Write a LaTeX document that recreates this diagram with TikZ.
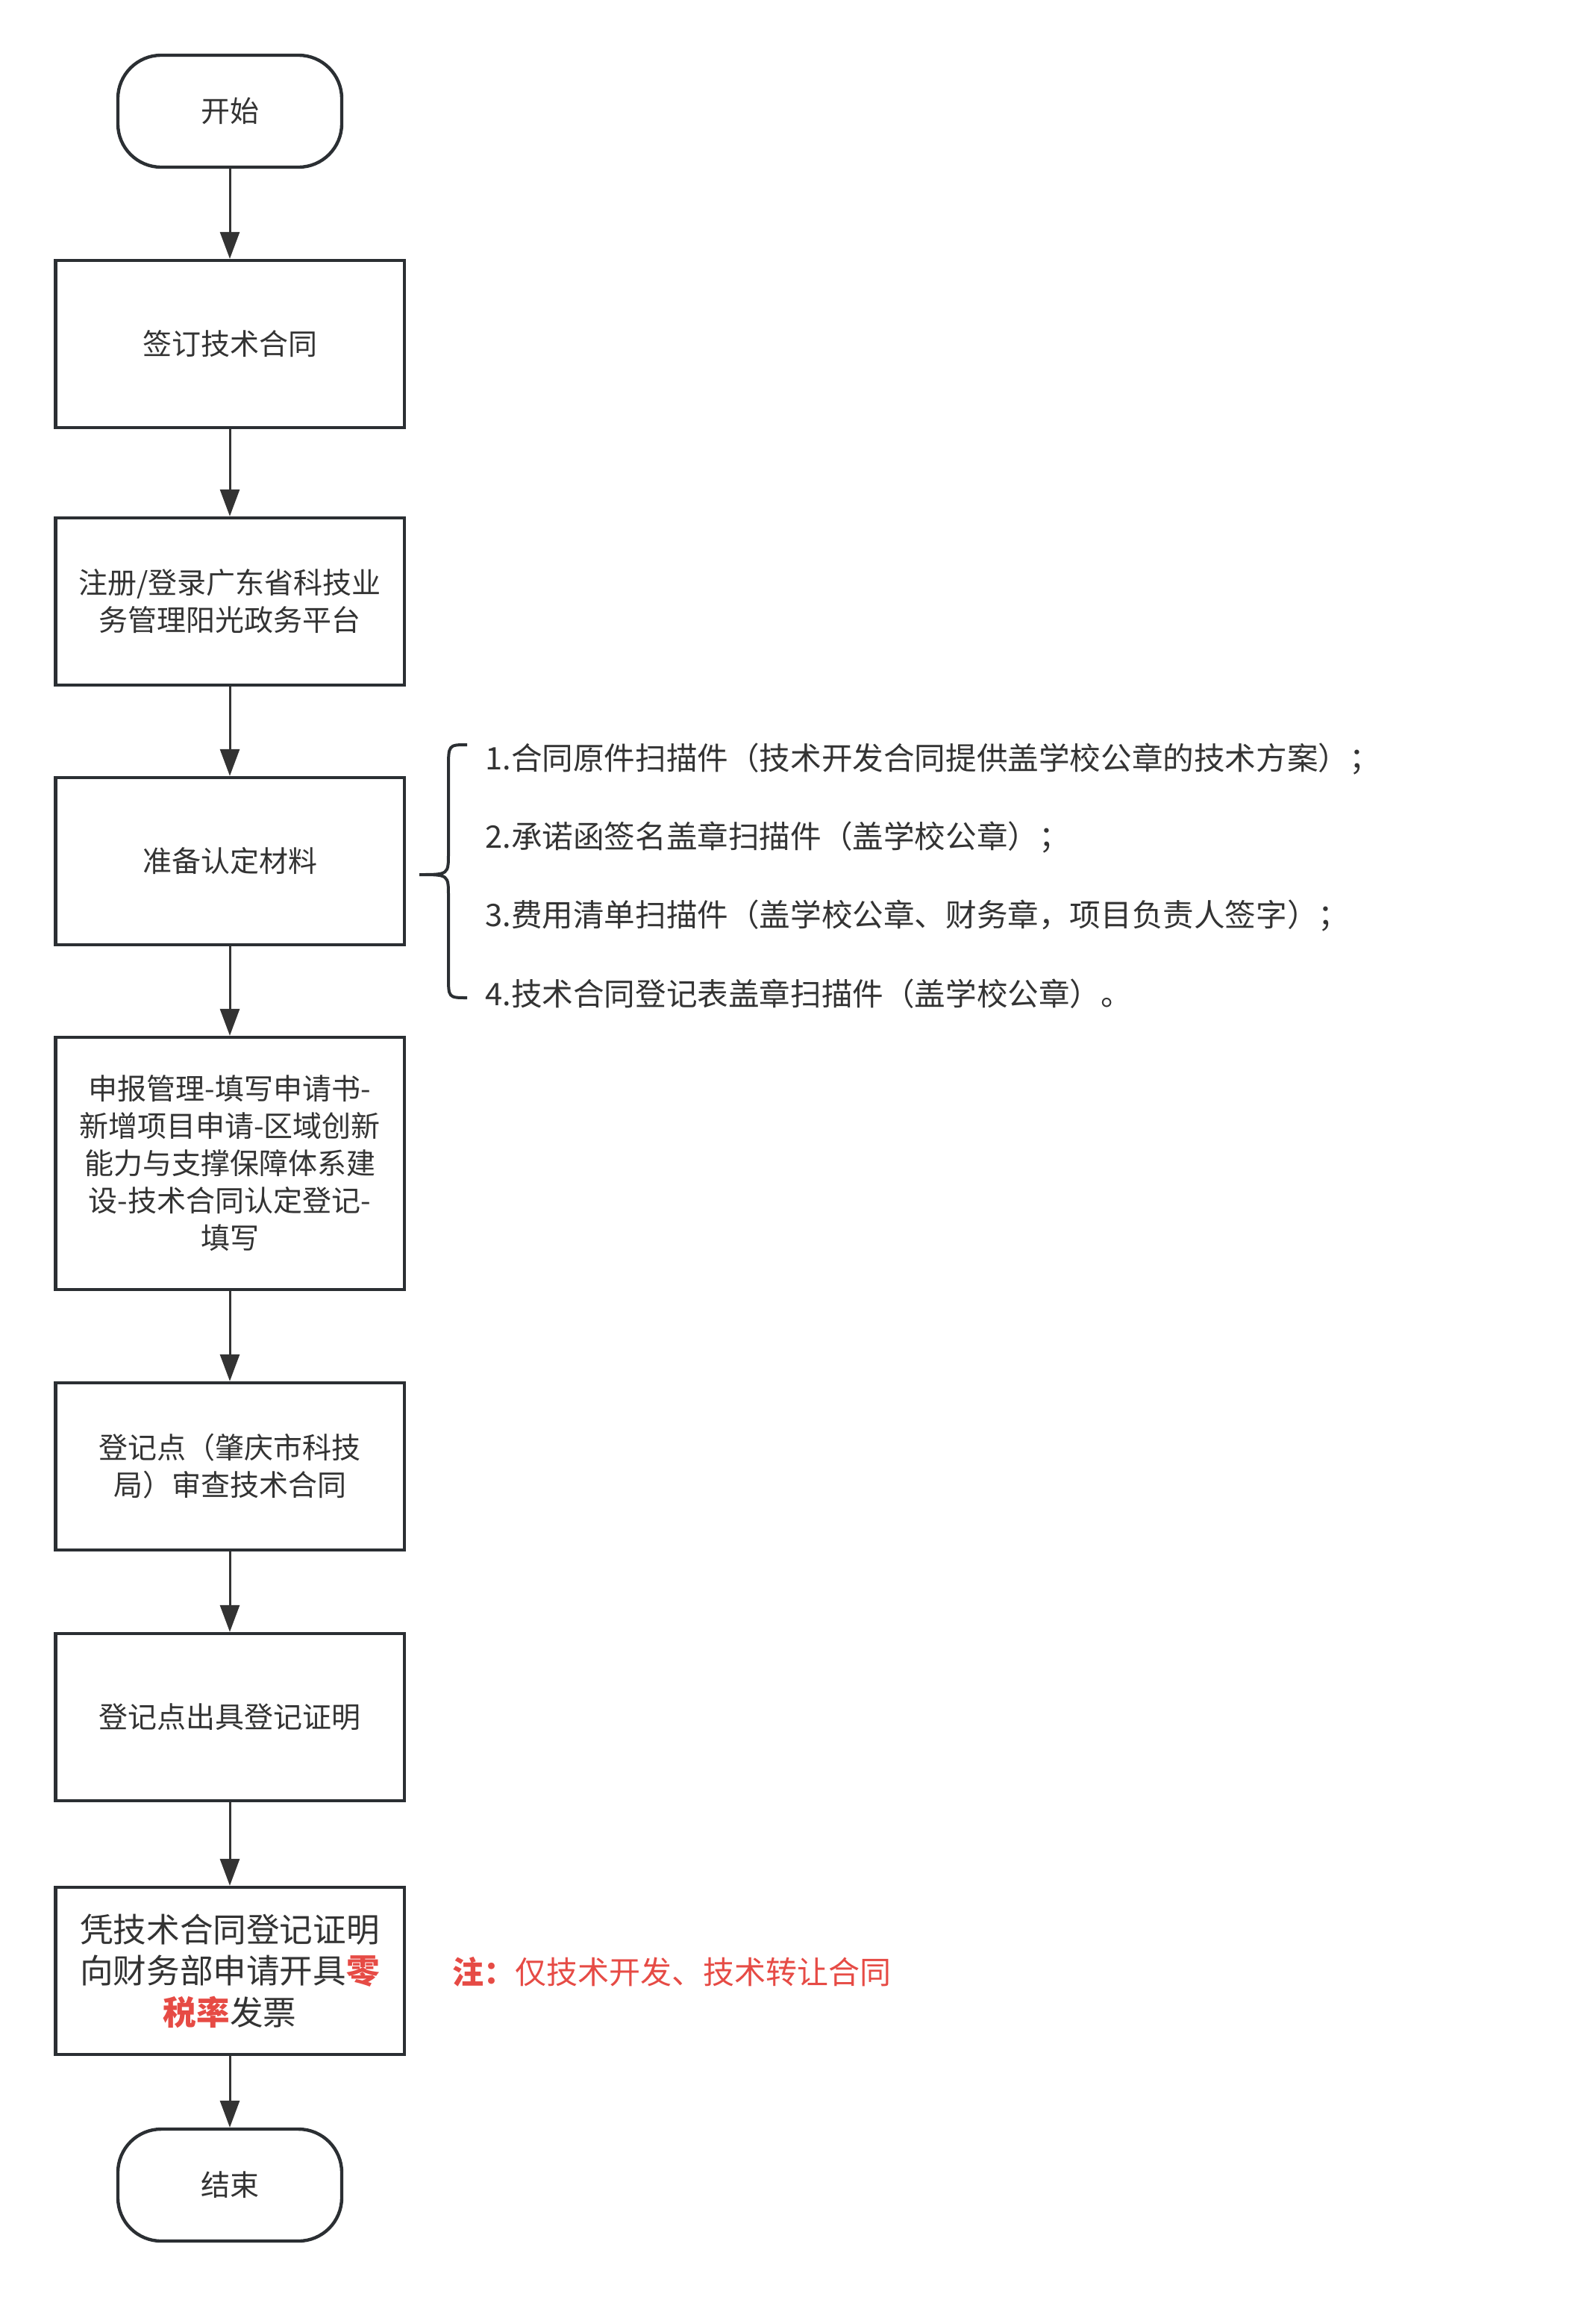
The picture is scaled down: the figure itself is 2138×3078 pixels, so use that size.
\documentclass[tikz,border=0pt]{standalone}
\usepackage{fontspec}
\setmainfont{Noto Sans CJK SC}
\usetikzlibrary{arrows.meta}
\definecolor{inkgray}{HTML}{333333}
\definecolor{linegray}{HTML}{2B2F33}
\definecolor{notered}{HTML}{E64B45}
\begin{document}
\begin{tikzpicture}[x=0.5pt, y=-0.5pt,
    box/.style={draw=linegray, line width=2.2pt, minimum width=233.7pt, minimum height=112pt,
      align=center, text=inkgray, inner sep=4pt, font=\fontsize{19.5}{25}\selectfont},
    term/.style={box, rounded corners=29pt, minimum width=150pt, minimum height=75pt},
    flow/.style={draw=inkgray, line width=1.5pt, -{Triangle[length=18pt, width=13pt]}},
    item/.style={anchor=west, text=inkgray, inner sep=0pt, font=\fontsize{20.8}{25}\selectfont}]
  \useasboundingbox (0,0) rectangle (2138,3078);
  % main flow
  \node (start)[term] at (308,149) {开始};
  \node (sign)[box] at (308,461) {签订技术合同};
  \node (login)[box] at (308,806) {注册/登录广东省科技业\\务管理阳光政务平台};
  \node (prep)[box] at (308,1154) {准备认定材料};
  \node (apply)[box, minimum height=169pt] at (308,1559) {申报管理-填写申请书-\\新增项目申请-区域创新\\能力与支撑保障体系建\\设-技术合同认定登记-\\填写};
  \node (check)[box] at (308,1965) {登记点（肇庆市科技\\局）审查技术合同};
  \node (cert)[box] at (308,2301) {登记点出具登记证明};
  \node (invoice)[box, font=\fontsize{22.3}{27.7}\selectfont] at (308,2641) {凭技术合同登记证明\\向财务部申请开具\textcolor{notered}{\bfseries 零}\\\textcolor{notered}{\bfseries 税率}发票};
  \node (finish)[term] at (308,2928) {结束};
  \draw[flow] (start) -- (sign);
  \draw[flow] (sign) -- (login);
  \draw[flow] (login) -- (prep);
  \draw[flow] (prep) -- (apply);
  \draw[flow] (apply) -- (check);
  \draw[flow] (check) -- (cert);
  \draw[flow] (cert) -- (invoice);
  \draw[flow] (invoice) -- (finish);
  % materials list
  \draw[linegray, line width=2pt] (626,998) .. controls (601,998) .. (601,1030) -- (601,1143)
    .. controls (601,1172) .. (562,1172) .. controls (601,1172) .. (601,1201) -- (601,1308)
    .. controls (601,1337) .. (626,1337);
  \node (m1)[item] at (650,1017) {1.合同原件扫描件（技术开发合同提供盖学校公章的技术方案）；};
  \node (m2)[item] at (650,1122) {2.承诺函签名盖章扫描件（盖学校公章）；};
  \node (m3)[item] at (650,1227) {3.费用清单扫描件（盖学校公章、财务章，项目负责人签字）；};
  \node (m4)[item] at (650,1332) {4.技术合同登记表盖章扫描件（盖学校公章）。};
  % note
  \node (note)[item, text=notered, font=\fontsize{21}{25}\selectfont] at (606,2642) {\textbf{注：}仅技术开发、技术转让合同};
\end{tikzpicture}
\end{document}
